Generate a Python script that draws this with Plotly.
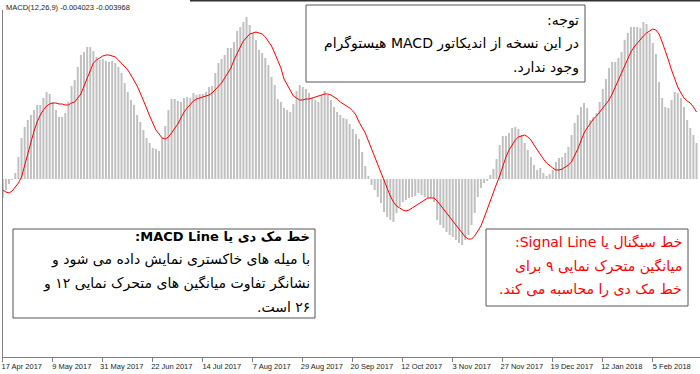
import plotly.graph_objects as go

# MACD main line (histogram bars) and signal line, in units of 0.0001
macd = [
    -19, -11, -5, -1, 6, 22, 41, 52, 59, 64,
    69, 74, 74, 81, 87, 85, 77, 69, 62, 62,
    66, 77, 93, 99, 112, 124, 127, 132, 132, 128,
    122, 119, 120, 118, 117, 118, 116, 112, 106, 96,
    87, 79, 74, 64, 57, 49, 41, 36, 31, 30,
    28, 41, 53, 69, 80, 80, 78, 77, 81, 82,
    81, 86, 84, 85, 85, 87, 92, 93, 106, 116,
    120, 124, 131, 131, 137, 148, 152, 157, 162, 154,
    146, 139, 129, 126, 121, 114, 102, 94, 80, 77,
    71, 69, 67, 75, 88, 94, 92, 90, 86, 81,
    79, 77, 84, 88, 84, 79, 72, 67, 64, 61,
    60, 55, 50, 45, 40, 27, 13, 3, -6, -11,
    -18, -24, -33, -38, -41, -43, -34, -28, -23, -21,
    -19, -18, -17, -14, -16, -18, -19, -19, -23, -41,
    -46, -49, -53, -56, -58, -61, -64, -66, -61, -56,
    -46, -34, -18, -9, -4, -2, 4, 10, 20, 34,
    43, 43, 46, 51, 52, 50, 44, 36, 29, 22,
    14, 9, 11, 6, 3, 5, 9, 17, 21, 22,
    26, 32, 44, 56, 64, 72, 76, 71, 59, 62,
    66, 77, 90, 100, 111, 117, 117, 121, 127, 139,
    146, 152, 152, 152, 151, 157, 155, 146, 136, 125,
    97, 81, 72, 71, 79, 87, 86, 81, 72, 59,
    51, 44, 36,
]

signal = [
    -11, -13, -14, -12, -8, -4, 2, 14, 24, 35,
    48, 57, 64, 69, 73, 75, 76, 76, 75, 75,
    74, 74, 76, 77, 81, 85, 93, 101, 109, 116,
    119, 121, 123, 124, 124, 123, 122, 119, 116, 113,
    109, 104, 99, 93, 86, 79, 71, 63, 55, 49,
    45, 41, 40, 42, 46, 50, 55, 61, 67, 71,
    75, 78, 80, 81, 82, 83, 84, 86, 89, 92,
    96, 101, 106, 111, 119, 126, 132, 138, 142, 145,
    146, 147, 146, 145, 142, 138, 133, 126, 119, 111,
    100, 94, 88, 83, 81, 79, 79, 80, 80, 81,
    82, 83, 84, 85, 85, 84, 82, 80, 77, 75,
    73, 71, 68, 64, 57, 52, 46, 38, 30, 22,
    14, 7, 0, -10, -17, -23, -27, -29, -31, -32,
    -31, -29, -27, -25, -23, -21, -19, -19, -19, -22,
    -26, -31, -35, -39, -43, -47, -51, -55, -58, -60,
    -60, -57, -52, -47, -39, -30, -22, -14, -5, 3,
    13, 22, 29, 34, 39, 42, 43, 44, 42, 39,
    34, 29, 24, 20, 16, 13, 11, 9, 9, 10,
    12, 14, 17, 23, 30, 38, 46, 51, 56, 60,
    63, 67, 70, 74, 79, 85, 92, 99, 106, 113,
    120, 127, 132, 136, 140, 143, 146, 148, 150, 149,
    145, 137, 129, 119, 109, 100, 92, 86, 81, 78,
    76, 72, 67,
]

tick_index = [0, 16, 32, 48, 64, 80, 96, 112, 128, 144, 160, 176, 192, 208]
tick_labels = ["17 Apr 2017", "9 May 2017", "31 May 2017", "22 Jun 2017",
               "14 Jul 2017", "7 Aug 2017", "29 Aug 2017", "20 Sep 2017",
               "12 Oct 2017", "3 Nov 2017", "27 Nov 2017", "19 Dec 2017",
               "12 Jan 2018", "5 Feb 2018"]

header = "MACD(12,26,9) -0.004023 -0.003968"
note_lines = ["توجه:", "در این نسخه از اندیکاتور MACD هیستوگرام", "وجود ندارد."]
macd_lines = ["خط مک دی یا MACD Line:", "با میله های خاکستری نمایش داده می شود و",
              "نشانگر تفاوت میانگین های متحرک نمایی ۱۲ و", "۲۶ است."]
signal_lines = ["خط سیگنال یا Signal Line:", "میانگین متحرک نمایی ۹ برای",
                "خط مک دی را محاسبه می کند."]

SCALE = 1e-4
idx = list(range(len(macd)))

W, H = 700, 374
ML, MR, MT, MB = 2, 0, 0, 17
PW, PH = W - ML - MR, H - MT - MB


def px(x):
    return (x - ML) / PW


def py(y):
    return (H - MB - y) / PH


fig = go.Figure()
fig.add_trace(go.Bar(x=idx, y=[v * SCALE for v in macd], marker=dict(color="#c0c0c0", line=dict(width=0)),
                     hoverinfo="skip"))
fig.add_trace(go.Scatter(x=idx, y=[v * SCALE for v in signal], mode="lines",
                         line=dict(color="#ff0000", width=1), hoverinfo="skip"))

shapes = []
# left border and top line
shapes.append(dict(type="line", xref="paper", yref="paper", x0=px(2.5), x1=px(2.5), y0=py(10), y1=py(357),
                   line=dict(color="#808080", width=1)))
shapes.append(dict(type="line", xref="paper", yref="paper", x0=px(190), x1=px(700), y0=py(0.5), y1=py(0.5),
                   line=dict(color="#333333", width=2)))
# text boxes
for (x0, x1, y0, y1) in [(306, 585, 5, 82), (13, 315, 229, 318), (486, 688, 229, 306)]:
    shapes.append(dict(type="rect", xref="paper", yref="paper", x0=px(x0), x1=px(x1), y0=py(y1), y1=py(y0),
                       line=dict(color="#555555", width=1), fillcolor="white", layer="above"))

RLE, PDF = "\u202b", "\u202c"
annotations = [dict(text=header, xref="paper", yref="paper", x=px(4), y=py(7), xanchor="left", yanchor="middle",
                    showarrow=False, font=dict(family="Liberation Sans, Arial", size=7.5, color="#222222"))]


def add_lines(lines, xr, ys, color, sizes, bold_first):
    for k, (t, y) in enumerate(zip(lines, ys)):
        txt = RLE + t + PDF
        if bold_first and k == 0:
            txt = "<b>" + txt + "</b>"
        annotations.append(dict(text=txt, xref="paper", yref="paper", x=px(xr), y=py(y), xanchor="right",
                                yanchor="middle", showarrow=False,
                                font=dict(family="DejaVu Sans", size=sizes[k], color=color)))


add_lines(note_lines, 581, [20, 43.5, 67], "#000000", [14, 14, 14], False)
add_lines(macd_lines, 312, [236, 259.5, 283, 306.5], "#000000", [13, 14, 14, 14], True)
add_lines(signal_lines, 684, [242, 266, 289], "#ff0000", [14, 14, 14], False)

fig.update_layout(
    width=W, height=H, margin=dict(l=ML, r=MR, t=MT, b=MB),
    paper_bgcolor="white", plot_bgcolor="white", showlegend=False,
    bargap=0.36, shapes=shapes, annotations=annotations,
    xaxis=dict(range=[-0.25, -0.25 + PW / 3.125], showgrid=False, zeroline=False, showline=True,
               linecolor="#808080", linewidth=1, ticks="outside", ticklen=4, tickcolor="#808080",
               tickvals=tick_index, ticktext=tick_labels, ticklabelshift=19, ticklabelstandoff=-2,
               tickfont=dict(family="Liberation Sans, Arial", size=7.5, color="#222222"), fixedrange=True),
    yaxis=dict(range=[-178 * SCALE, 179 * SCALE], visible=False, fixedrange=True),
)

fig.write_html("out.html", config={"displayModeBar": False},
               post_script="document.body.style.margin='0';document.body.style.overflow='hidden';")
